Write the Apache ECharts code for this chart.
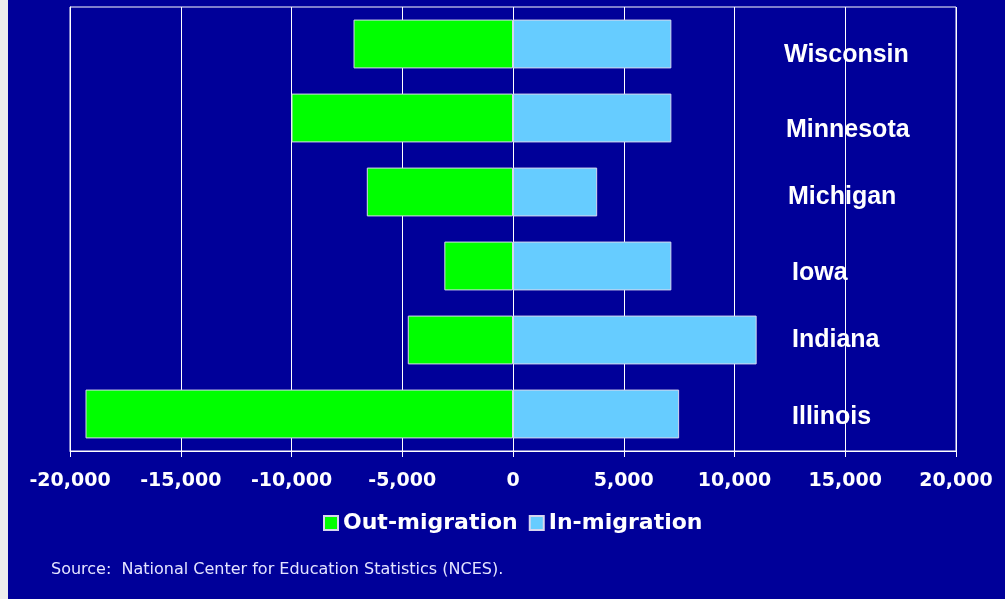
<!DOCTYPE html>
<html>
<head>
<meta charset="utf-8">
<title>Midwest student migration</title>
<script src="https://cdn.jsdelivr.net/npm/echarts@6/dist/echarts.min.js"></script>
<style>
  html, body { margin: 0; padding: 0; background: #ededed; }
  #chart { position: absolute; left: 8px; top: 0; width: 997px; height: 599px; }
</style>
</head>
<body>
<div id="chart"></div>
<script>
// States, listed top to bottom
const states = ['Wisconsin', 'Minnesota', 'Michigan', 'Iowa', 'Indiana', 'Illinois'];
// Students leaving each state (negative) and arriving (positive)
const outMigration = [-7200, -10000, -6600, -3100, -4750, -19300];
const inMigration = [7150, 7150, 3800, 7150, 11000, 7500];
// Value axis range and step
const axisMin = -20000;
const axisMax = 20000;
const axisStep = 5000;

const sourceNote = 'Source:  National Center for Education Statistics (NCES).';

// Small per-label nudges for the state names: [dx, dy] in pixels
const labelNudge = [[0, 11], [2, 12], [4, 5], [8, 7], [8, 0], [8, 3]];

const rich = {};
labelNudge.forEach(function (n, i) {
  const dx = n[0], dy = n[1];
  rich['s' + i] = {
    color: '#ffffff',
    fontFamily: 'Liberation Sans, Arial, sans-serif',
    fontWeight: 'bold',
    fontSize: 25,
    padding: dy >= 0 ? [2 * dy, 0, 0, dx] : [0, 0, -2 * dy, dx]
  };
});

const chart = echarts.init(document.getElementById('chart'), null, { renderer: 'canvas' });

chart.setOption({
  backgroundColor: '#000099',
  animation: false,
  title: {
    text: sourceNote,
    left: 38,
    top: 557,
    textStyle: {
      color: '#e4e4ff',
      fontFamily: 'DejaVu Sans, Verdana, sans-serif',
      fontWeight: 'normal',
      fontSize: 16
    }
  },
  legend: {
    left: 310,
    top: 507,
    itemWidth: 14,
    itemHeight: 14,
    itemGap: 11,
    icon: 'rect',
    textStyle: {
      color: '#ffffff',
      fontFamily: 'DejaVu Sans, Verdana, sans-serif',
      fontWeight: 'bold',
      fontSize: 22
    },
    data: ['Out-migration', 'In-migration']
  },
  grid: {
    left: 62,
    right: 49,
    top: 7,
    bottom: 148,
    show: true,
    borderColor: '#ffffff',
    borderWidth: 1,
    containLabel: false
  },
  xAxis: {
    type: 'value',
    min: axisMin,
    max: axisMax,
    interval: axisStep,
    axisLine: { show: true, lineStyle: { color: '#ffffff', width: 1 } },
    axisTick: { show: true, length: 6, lineStyle: { color: '#ffffff' } },
    splitLine: { show: true, lineStyle: { color: '#ffffff', width: 1 } },
    axisLabel: {
      color: '#ffffff',
      fontFamily: 'DejaVu Sans, Verdana, sans-serif',
      fontWeight: 'bold',
      fontSize: 19,
      margin: 21,
      formatter: function (v) { return v.toLocaleString('en-US'); }
    }
  },
  yAxis: {
    type: 'category',
    data: states,
    inverse: true,
    position: 'left',
    axisLine: { show: true, onZero: false, lineStyle: { color: '#ffffff', width: 1 } },
    axisTick: { show: false },
    splitLine: { show: false },
    axisLabel: {
      margin: -714,
      align: 'left',
      verticalAlign: 'middle',
      formatter: function (v, i) { return '{s' + i + '|' + v + '}'; },
      rich: rich
    }
  },
  series: [
    {
      name: 'Out-migration',
      type: 'bar',
      stack: 'flow',
      barWidth: '66%',
      data: outMigration,
      itemStyle: { color: '#00ff00', borderColor: '#d6d6ee', borderWidth: 1 }
    },
    {
      name: 'In-migration',
      type: 'bar',
      stack: 'flow',
      barWidth: '66%',
      data: inMigration,
      itemStyle: { color: '#66ccff', borderColor: '#d6d6ee', borderWidth: 1 }
    }
  ]
});
</script>
</body>
</html>
